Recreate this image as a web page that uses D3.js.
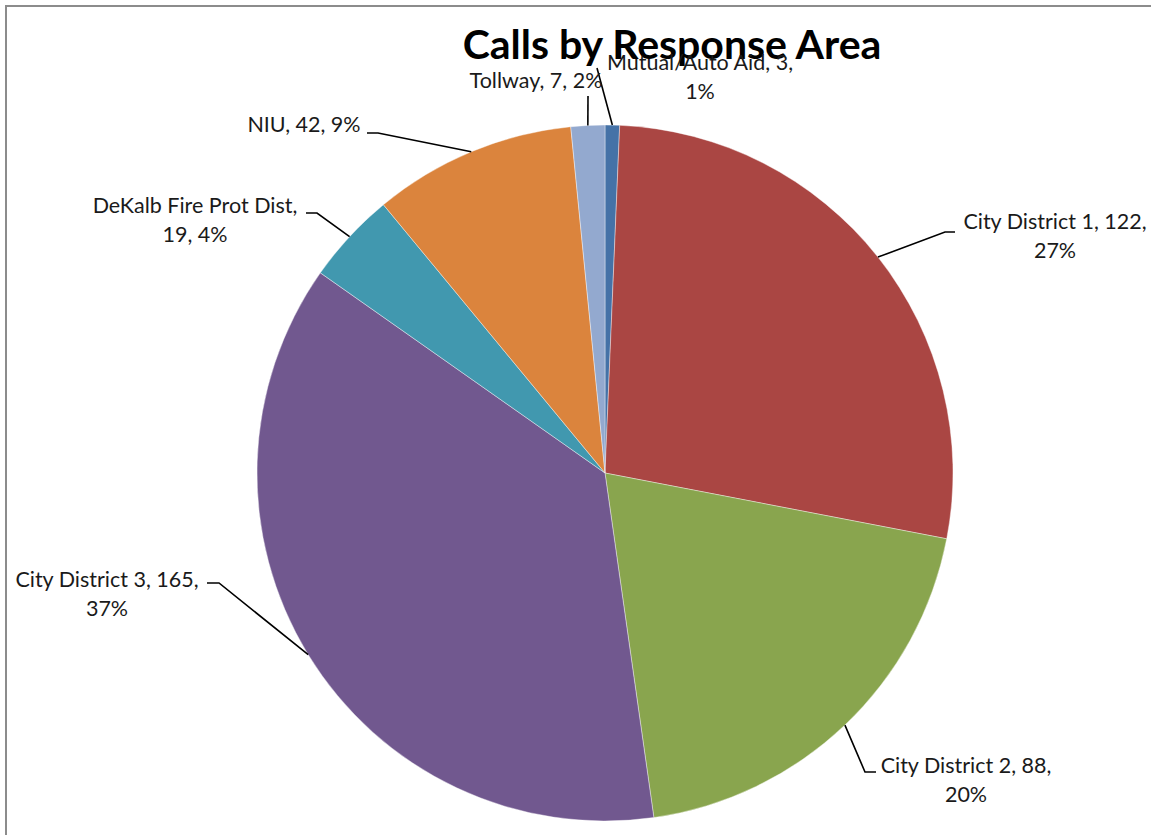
<!DOCTYPE html>
<html>
<head>
<meta charset="utf-8">
<script src="https://cdn.jsdelivr.net/npm/d3@7"></script>
<style>
  body { margin: 0; background: #fff; }
  svg { display: block; font-family: Lato, "Open Sans", sans-serif; }
</style>
</head>
<body>
<svg id="chart"></svg>
<script>
const width = 1151;
const height = 835;

// chart data
const areas = ['Mutual/Auto Aid', 'City District 1', 'City District 2', 'City District 3',
               'DeKalb Fire Prot Dist', 'NIU', 'Tollway'];
const calls = [3, 122, 88, 165, 19, 42, 7];
const sliceColors = ['#4572A7', '#AA4643', '#89A54E', '#71588F', '#4198AF', '#DB843D', '#93A9CF'];

// label placement (center x, first baseline, elbow point, how many parts on line 1)
const labelLayout = {
    'Mutual/Auto Aid':       { cx: 700, y: 70,  elbow: [597, 68],  stub: null, split: 2 },
    'City District 1':       { cx: 1055, y: 229, elbow: [945, 232], stub: 955, split: 2 },
    'City District 2':       { cx: 966, y: 773, elbow: [865, 772], stub: 876, split: 2 },
    'City District 3':       { cx: 107, y: 587, elbow: [219, 583], stub: 207, split: 2 },
    'DeKalb Fire Prot Dist': { cx: 195, y: 213, elbow: [317, 213], stub: 306, split: 1 },
    'NIU':                   { cx: 304, y: 132, elbow: [378, 133], stub: 367, split: 3 },
    'Tollway':               { cx: 536, y: 88,  elbow: [588, 96],  stub: null, split: 3 }
};

const cx = 605, cy = 473, radius = 348;
const lineGap = 29;

const svg = d3.select('#chart')
    .attr('width', width)
    .attr('height', height);

svg.append('rect').attr('width', width).attr('height', height).attr('fill', '#fff');

// chart frame (only top and left edges are visible)
svg.append('path')
    .attr('d', `M6,${height} V6 H${width}`)
    .attr('fill', 'none')
    .attr('stroke', '#8c8c8c')
    .attr('stroke-width', 2);

const total = d3.sum(calls);
const rows = areas.map((name, i) => ({ name, value: calls[i], color: sliceColors[i] }));

const pie = d3.pie().sort(null).value(d => d.value);
const arc = d3.arc().innerRadius(0).outerRadius(radius);
const arcs = pie(rows);

// title
svg.append('text')
    .attr('x', 672)
    .attr('y', 59)
    .attr('text-anchor', 'middle')
    .style('font-size', '41px')
    .style('font-weight', 'bold')
    .attr('fill', '#000')
    .text('Calls by Response Area');

const g = svg.append('g').attr('transform', `translate(${cx}, ${cy})`);

g.selectAll('path')
    .data(arcs)
    .enter().append('path')
    .attr('d', arc)
    .attr('fill', d => d.data.color)
    .attr('stroke', '#fff')
    .attr('stroke-width', 0.4);

// leader lines from the slice's mid-angle on the rim
const rimPoint = d => {
    const a = (d.startAngle + d.endAngle) / 2;
    return [cx + radius * Math.sin(a), cy - radius * Math.cos(a)];
};

svg.append('g').selectAll('path')
    .data(arcs)
    .enter().append('path')
    .attr('fill', 'none')
    .attr('stroke', '#000')
    .attr('stroke-width', 1.6)
    .attr('d', d => {
        const lay = labelLayout[d.data.name];
        const p = rimPoint(d);
        let path = `M${p[0]},${p[1]} L${lay.elbow[0]},${lay.elbow[1]}`;
        if (lay.stub !== null) path += ` H${lay.stub}`;
        return path;
    });

// data labels
const labels = svg.append('g').selectAll('text')
    .data(arcs)
    .enter().append('text')
    .attr('text-anchor', 'middle')
    .attr('fill', '#1a1a1a')
    .style('font-size', '21.5px');

labels.each(function (d) {
    const lay = labelLayout[d.data.name];
    const pct = Math.round(d.data.value / total * 100) + '%';
    const parts = [d.data.name, String(d.data.value), pct];
    const first = parts.slice(0, lay.split).join(', ') + (lay.split < 3 ? ',' : '');
    const second = parts.slice(lay.split).join(', ');
    const t = d3.select(this);
    t.append('tspan').attr('x', lay.cx).attr('y', lay.y).text(first);
    if (second) t.append('tspan').attr('x', lay.cx).attr('y', lay.y + lineGap).text(second);
});
</script>
</body>
</html>
